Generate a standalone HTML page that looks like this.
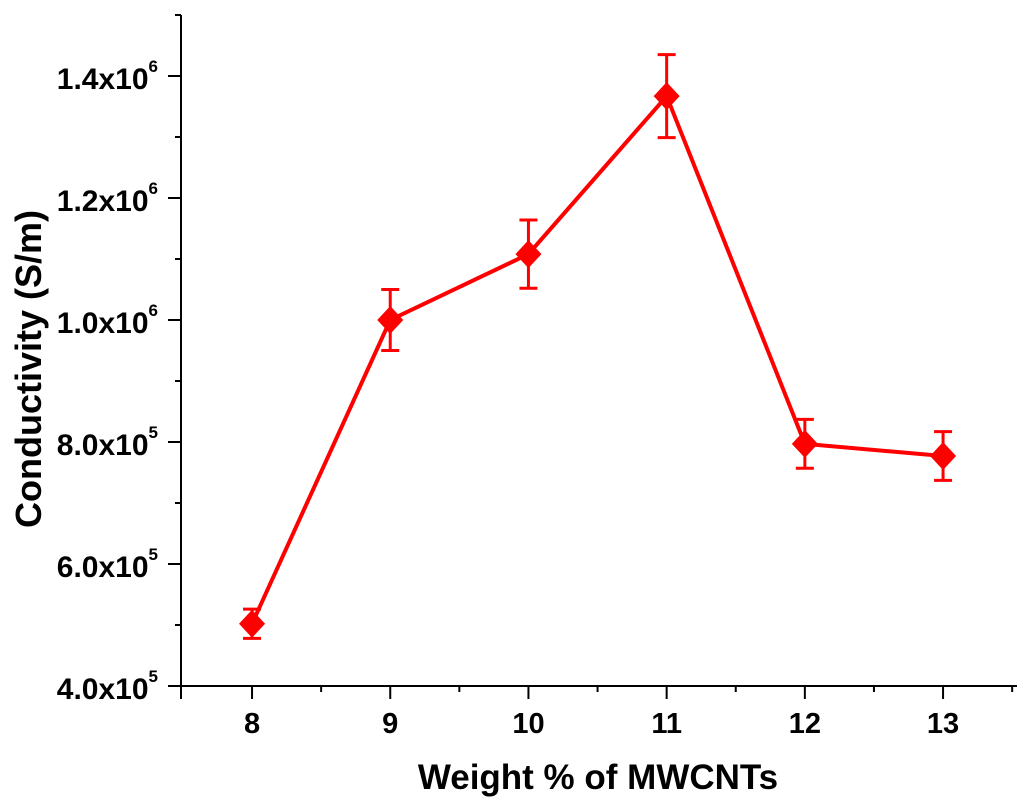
<!DOCTYPE html>
<html><head><meta charset="utf-8"><style>
html,body{margin:0;padding:0;background:#fff;}
svg{display:block;font-family:"Liberation Sans",Arial,sans-serif;font-weight:bold;}
</style></head><body>
<svg id="chart" width="1024" height="806" viewBox="0 0 1024 806"></svg>
<script>
const categories = [8, 9, 10, 11, 12, 13];
const conductivity = [5.02e5, 1.0e6, 1.108e6, 1.367e6, 7.97e5, 7.77e5];
const errors = [0.24e5, 0.5e5, 0.56e5, 0.68e5, 0.4e5, 0.4e5];
const yTicks = [4e5, 6e5, 8e5, 1.0e6, 1.2e6, 1.4e6];
const yTickMant = ["4.0", "6.0", "8.0", "1.0", "1.2", "1.4"];
const yTickExp = ["5", "5", "5", "6", "6", "6"];
const xTicks = [8, 9, 10, 11, 12, 13];

const NS = "http://www.w3.org/2000/svg";
const svg = document.getElementById('chart');
const L = 181, R = 1017, T = 15, B = 686;
const xMin = 7.486, xMax = 13.535, yMin = 4e5, yMax = 1.5e6;
const xs = v => L + (v - xMin) / (xMax - xMin) * (R - L);
const ys = v => B - (v - yMin) / (yMax - yMin) * (B - T);
function mk(tag, attrs, parent) {
  const e = document.createElementNS(NS, tag);
  for (const k in attrs) e.setAttribute(k, attrs[k]);
  (parent || svg).appendChild(e);
  return e;
}
let e = mk('line', {x1: L, y1: T, x2: L, y2: B + 13, stroke: '#000', 'stroke-width': 2});
 
e = mk('line', {x1: L - 13, y1: B, x2: R, y2: B, stroke: '#000', 'stroke-width': 2});
 
for (let v = yMin; v <= yMax + 1; v += 1e5) {
  const major = Math.round(v / 1e5) % 2 === 0;
  e = mk('line', {x1: L - (major ? 13 : 6), y1: ys(v), x2: L, y2: ys(v), stroke: '#000', 'stroke-width': 2});
   
}
yTicks.forEach((v, i) => {
  const t = mk('text', {x: 158, y: ys(v) + 13, 'text-anchor': 'end', 'font-size': 30});
   
  t.textContent = yTickMant[i] + 'x10';
  const s = mk('tspan', {dy: -17, 'font-size': 17}, t);
  s.textContent = yTickExp[i];
});
xTicks.forEach(v => {
  e = mk('line', {x1: xs(v), y1: B, x2: xs(v), y2: B + 13, stroke: '#000', 'stroke-width': 2});
   
  e = mk('line', {x1: xs(v + 0.5), y1: B, x2: xs(v + 0.5), y2: B + 6, stroke: '#000', 'stroke-width': 2});
   
  const t = mk('text', {x: xs(v), y: 733, 'text-anchor': 'middle', 'font-size': 29});
   
  t.textContent = v;
});
e = mk('text', {x: 598, y: 789, 'text-anchor': 'middle', 'font-size': 35});
 
e.textContent = 'Weight % of MWCNTs';
e = mk('text', {x: 0, y: 0, 'text-anchor': 'middle', 'font-size': 36, transform: 'translate(41,369) rotate(-90)'});
 
e.textContent = 'Conductivity (S/m)';
const pts = categories.map((c, i) => xs(c) + ',' + ys(conductivity[i])).join(' ');
e = mk('polyline', {points: pts, fill: 'none', stroke: '#ff0000', 'stroke-width': 4});
 
categories.forEach((c, i) => {
  const x = xs(c), y = ys(conductivity[i]);
  const yt = ys(conductivity[i] + errors[i]), yb = ys(conductivity[i] - errors[i]);
  const g = mk('g', {stroke: '#ff0000', 'stroke-width': 3});
   
  mk('line', {x1: x, y1: yt, x2: x, y2: yb}, g);
  mk('line', {x1: x - 9, y1: yt, x2: x + 9, y2: yt}, g);
  mk('line', {x1: x - 9, y1: yb, x2: x + 9, y2: yb}, g);
  const m = mk('polygon', {points: `${x},${y-14} ${x+13},${y} ${x},${y+14} ${x-13},${y}`, fill: '#ff0000'});
   
});
</script>
</body></html>
